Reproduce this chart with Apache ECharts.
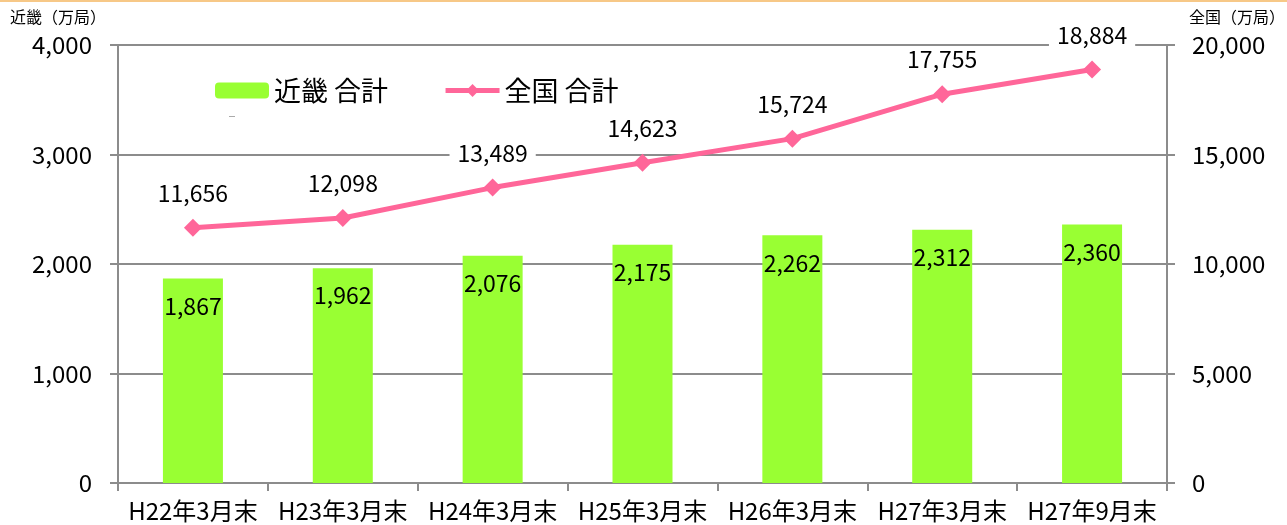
<!DOCTYPE html>
<html>
<head>
<meta charset="utf-8">
<script src="https://cdn.jsdelivr.net/npm/echarts@6/dist/echarts.min.js"></script>
<style>
  html, body { margin: 0; padding: 0; background: #fff; }
  #chart { width: 1287px; height: 525px; }
</style>
</head>
<body>
<div id="chart"></div>
<script>
// データ
const categories = ['H22年3月末', 'H23年3月末', 'H24年3月末', 'H25年3月末', 'H26年3月末', 'H27年3月末', 'H27年9月末'];
const kinkiTotal = [1867, 1962, 2076, 2175, 2262, 2312, 2360];
const zenkokuTotal = [11656, 12098, 13489, 14623, 15724, 17755, 18884];

const FONT = '"Noto Sans CJK JP", "Noto Sans", sans-serif';
const fmt = v => String(v).replace(/\B(?=(\d{3})+(?!\d))/g, ',');

const chart = echarts.init(document.getElementById('chart'));
chart.setOption({
  animation: false,
  textStyle: { fontFamily: FONT, color: '#000' },
  grid: { left: 118, right: 120, top: 45, bottom: 42 },
  graphic: [
    { type: 'rect', shape: { x: 0, y: 0, width: 1287, height: 2 }, style: { fill: '#f7c887' } },
    { type: 'rect', shape: { x: 229, y: 116, width: 6, height: 1 }, style: { fill: '#aaa' } },
    { type: 'text', left: 10, top: 9, style: { text: '近畿（万局）', font: '16px ' + FONT, fill: '#000' } },
    { type: 'text', right: 2, top: 9, style: { text: '全国（万局）', font: '16px ' + FONT, fill: '#000' } }
  ],
  legend: {
    left: 215, top: 77, padding: 0,
    itemGap: 55,
    itemWidth: 54, itemHeight: 16,
    textStyle: { fontSize: 27, fontFamily: FONT, color: '#000' },
    data: [
      { name: '近畿 合計' },
      { name: '全国 合計', lineStyle: { width: 5 } }
    ]
  },
  xAxis: {
    type: 'category',
    data: categories,
    axisLine: { lineStyle: { color: '#8c8c8c', width: 2 } },
    axisTick: { show: true, interval: 0, length: 8, lineStyle: { color: '#8c8c8c', width: 2 } },
    axisLabel: { interval: 0, hideOverlap: false, fontSize: 24, color: '#000', margin: 16, fontFamily: FONT }
  },
  yAxis: [
    {
      type: 'value', min: 0, max: 4000, interval: 1000,
      axisLine: { show: true, lineStyle: { color: '#8c8c8c', width: 2 } },
      axisTick: { show: true, length: 8, lineStyle: { color: '#8c8c8c', width: 2 } },
      splitLine: { lineStyle: { color: '#8c8c8c', width: 2 } },
      axisLabel: { fontSize: 24, color: '#000', margin: 26, formatter: fmt, fontFamily: FONT }
    },
    {
      type: 'value', min: 0, max: 20000, interval: 5000,
      axisLine: { show: true, lineStyle: { color: '#8c8c8c', width: 2 } },
      axisTick: { show: true, length: 8, lineStyle: { color: '#8c8c8c', width: 2 } },
      splitLine: { show: false },
      axisLabel: { fontSize: 24, color: '#000', margin: 25, formatter: fmt, fontFamily: FONT }
    }
  ],
  series: [
    {
      name: '近畿 合計',
      type: 'bar',
      data: kinkiTotal,
      barWidth: 60,
      itemStyle: { color: '#99ff33' },
      label: {
        show: true, position: 'insideTop', distance: 16,
        fontSize: 23, color: '#000', fontFamily: FONT,
        formatter: p => fmt(p.value)
      }
    },
    {
      name: '全国 合計',
      type: 'line',
      yAxisIndex: 1,
      data: zenkokuTotal,
      symbol: 'diamond',
      symbolSize: 18,
      lineStyle: { color: '#ff6699', width: 5 },
      itemStyle: { color: '#ff6699' },
      label: {
        show: true, position: 'top', distance: 12,
        fontSize: 23, color: '#000', fontFamily: FONT,
        backgroundColor: '#fff', padding: [2, 8],
        formatter: p => fmt(p.value)
      }
    }
  ]
});
</script>
</body>
</html>
